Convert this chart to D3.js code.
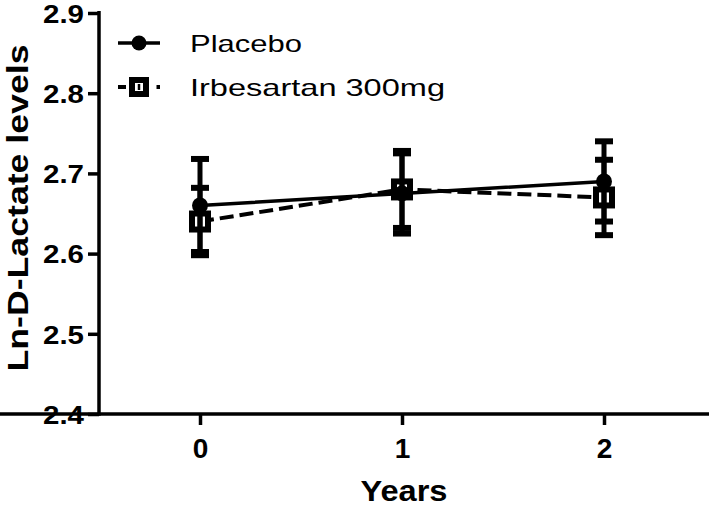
<!DOCTYPE html>
<html><head><meta charset="utf-8">
<script src="https://cdn.jsdelivr.net/npm/d3@7"></script>
<style>body{margin:0;background:#fff}svg{display:block}text{font-family:"Liberation Sans",Arial,sans-serif}</style>
</head><body>
<svg id="c" width="709" height="506"></svg>
<script>
const years = [0, 1, 2];
const xTicks = [0, 1, 2];
const yTicks = [2.4, 2.5, 2.6, 2.7, 2.8, 2.9];
const placeboMean = [2.66, 2.675, 2.69];
const placeboErr = [0.058, 0.05, 0.05];
const irbMean = [2.64, 2.68, 2.67];
const irbErr = [0.042, 0.048, 0.047];
const seriesNames = ["Placebo", "Irbesartan 300mg"];

const svg = d3.select("#c");
const x = d3.scaleLinear().domain([-0.5, 2.5]).range([99, 705]);
const y = d3.scaleLinear().domain([2.4, 2.9]).range([414, 13]);

// axes
const yAxis = svg.append("g").attr("transform", "translate(99,0)")
  .call(d3.axisLeft(y).tickValues(yTicks).tickFormat(d3.format(".1f")).tickSize(11).tickSizeOuter(0));
const xAxis = svg.append("g").attr("transform", "translate(0,414)")
  .call(d3.axisBottom(x).tickValues(xTicks).tickFormat(d3.format("d")).tickSize(11).tickSizeOuter(0));
[yAxis, xAxis].forEach(g => {
  g.select(".domain").attr("stroke", "#000").attr("stroke-width", 3.5);
  g.selectAll(".tick line").attr("stroke", "#000").attr("stroke-width", 3.5);
  g.selectAll(".tick text").attr("fill", "#000").style("font-weight", "bold");
});
yAxis.select(".domain").attr("d", `M0,${y(2.9)-2}V${y(2.4)+1.75}`);
xAxis.select(".domain").attr("d", `M-1.75,0H709`);
yAxis.selectAll(".tick text").attr("x", -15).attr("dy", "0.36em")
  .style("font-size", "26px").attr("textLength", 41).attr("lengthAdjust", "spacingAndGlyphs");
xAxis.selectAll(".tick text").attr("y", 44).attr("dy", 0).style("font-size", "28px");

svg.append("text").attr("x", 404).attr("y", 501).attr("text-anchor", "middle")
  .style("font-size", "30px").style("font-weight", "bold")
  .attr("textLength", 87).attr("lengthAdjust", "spacingAndGlyphs").text("Years");
svg.append("text").attr("transform", "translate(28,208) rotate(-90)").attr("text-anchor", "middle")
  .style("font-size", "29px").style("font-weight", "bold")
  .attr("textLength", 327).attr("lengthAdjust", "spacingAndGlyphs").text("Ln-D-Lactate levels");

const line = d3.line().x((d, i) => x(years[i])).y(d => y(d));
svg.append("path").datum(irbMean).attr("d", line).attr("fill", "none")
  .attr("stroke", "#000").attr("stroke-width", 4).attr("stroke-dasharray", "14,6");
svg.append("path").datum(placeboMean).attr("d", line).attr("fill", "none")
  .attr("stroke", "#000").attr("stroke-width", 3.5);

svg.selectAll(".sq").data(irbMean).join("rect")
  .attr("x", (d, i) => x(years[i]) - 8).attr("y", d => y(d) - 8)
  .attr("width", 16).attr("height", 16).attr("fill", "#fff").attr("stroke", "#000").attr("stroke-width", 6);
svg.selectAll(".pc").data(placeboMean).join("circle")
  .attr("cx", (d, i) => x(years[i])).attr("cy", d => y(d)).attr("r", 8).attr("fill", "#000");

function errorBars(mean, err) {
  const g = svg.append("g");
  years.forEach((yr, i) => {
    const cx = x(yr), top = y(mean[i] + err[i]), bot = y(mean[i] - err[i]);
    g.append("line").attr("x1", cx).attr("x2", cx).attr("y1", top).attr("y2", bot)
      .attr("stroke", "#000").attr("stroke-width", 5);
    [top, bot].forEach(v => g.append("line").attr("x1", cx - 9).attr("x2", cx + 9)
      .attr("y1", v).attr("y2", v).attr("stroke", "#000").attr("stroke-width", 6));
  });
}
errorBars(placeboMean, placeboErr);
errorBars(irbMean, irbErr);

// legend
const lg = svg.append("g");
lg.append("line").attr("x1", 118).attr("x2", 160).attr("y1", 43).attr("y2", 43).attr("stroke", "#000").attr("stroke-width", 3.5);
lg.append("circle").attr("cx", 139).attr("cy", 43).attr("r", 7.5).attr("fill", "#000");
lg.append("text").attr("x", 190).attr("y", 51.5).style("font-size", "24px")
  .attr("textLength", 112).attr("lengthAdjust", "spacingAndGlyphs").text(seriesNames[0]);
lg.append("line").attr("x1", 118).attr("x2", 126).attr("y1", 87).attr("y2", 87).attr("stroke", "#000").attr("stroke-width", 4);
lg.append("line").attr("x1", 156.5).attr("x2", 160).attr("y1", 87).attr("y2", 87).attr("stroke", "#000").attr("stroke-width", 4);
lg.append("rect").attr("x", 132).attr("y", 80).attr("width", 14).attr("height", 14).attr("fill", "#fff").attr("stroke", "#000").attr("stroke-width", 6);
lg.append("line").attr("x1", 139).attr("x2", 139).attr("y1", 84).attr("y2", 90).attr("stroke", "#000").attr("stroke-width", 2.5);
lg.append("text").attr("x", 190).attr("y", 95.5).style("font-size", "24px")
  .attr("textLength", 255).attr("lengthAdjust", "spacingAndGlyphs").text(seriesNames[1]);
</script>
</body></html>
